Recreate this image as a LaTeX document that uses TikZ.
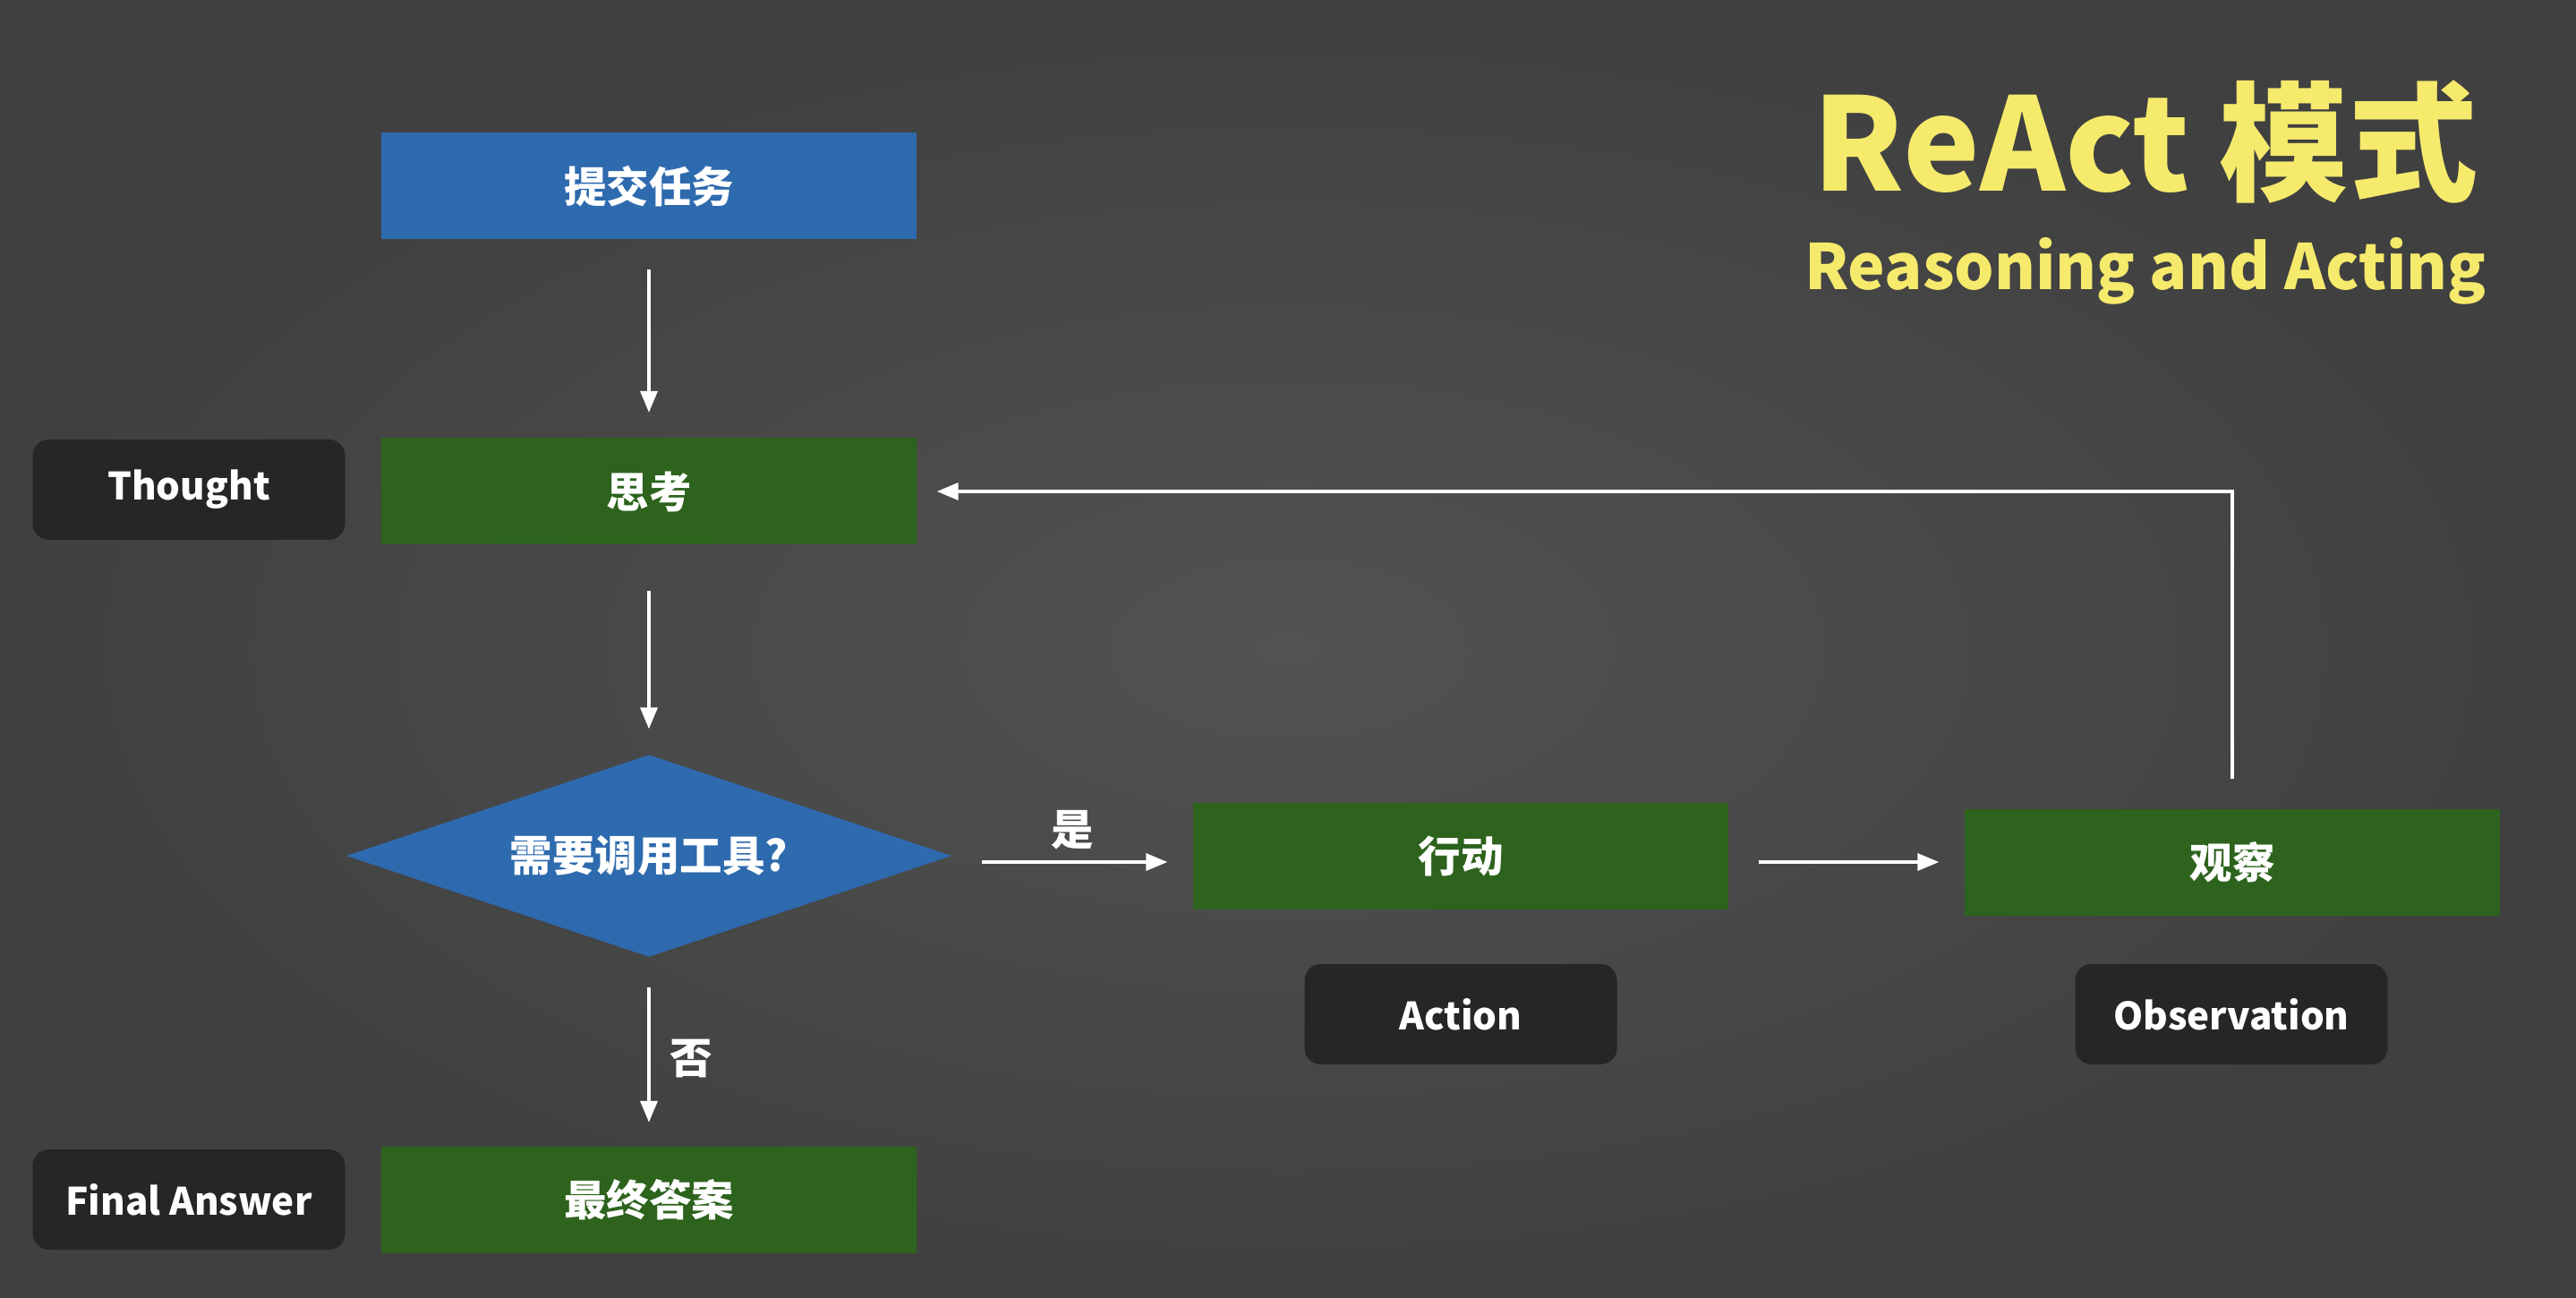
\documentclass[tikz,border=0pt]{standalone}
\usepackage{fontspec}
\usepackage{xcolor}
\setmainfont{Noto Sans CJK SC}
\usetikzlibrary{arrows.meta, shapes.geometric}
\definecolor{taskblue}{RGB}{46,106,174}
\definecolor{stepgreen}{RGB}{45,99,29}
\definecolor{tagdark}{RGB}{38,38,38}
\definecolor{titleyellow}{RGB}{246,234,108}
\definecolor{boardgray}{RGB}{82,82,82}
\definecolor{boardedge}{RGB}{64,64,64}

\begin{document}
\begin{tikzpicture}[
  stepbox/.style={rectangle, fill=stepgreen, text=white, minimum width=5.98cm, minimum height=1.19cm, font=\fontsize{13.5}{16}\selectfont\bfseries},
  startbox/.style={stepbox, fill=taskblue},
  choice/.style={diamond, aspect=3, fill=taskblue, text=white, inner sep=0pt, minimum width=6.77cm, minimum height=2.26cm, font=\fontsize{13.5}{16}\selectfont\bfseries},
  tag/.style={rectangle, rounded corners=0.18cm, fill=tagdark, text=white, minimum width=3.49cm, minimum height=1.12cm, font=\fontsize{12}{15}\selectfont\bfseries},
  flow/.style={-{Triangle[length=0.24cm, width=0.19cm]}, line width=1pt, white, shorten <=0.33cm, shorten >=0.28cm},
  lbl/.style={text=white, font=\fontsize{13.5}{16}\selectfont\bfseries}
]
% board
\shade[inner color=boardgray, outer color=boardedge] (0,0) rectangle (28.78,-14.50);
\useasboundingbox (0,0) rectangle (28.78,-14.50);

% title
\node[text=titleyellow, font=\fontsize{41}{48}\selectfont\bfseries] (title) at (23.97,-1.58) {ReAct 模式};
\node[text=titleyellow, font=\fontsize{19.9}{24}\selectfont\bfseries] (subtitle) at (23.97,-3.03) {Reasoning and Acting};

% main column
\node[startbox] (task) at (7.25,-2.08) {提交任务};
\node[stepbox] (think) at (7.25,-5.49) {思考};
\node[choice] (decide) at (7.25,-9.56) {需要调用工具?};
\node[stepbox] (final) at (7.25,-13.40) {最终答案};

% tool loop
\node[stepbox] (act) at (16.32,-9.56) {行动};
\node[stepbox] (obs) at (24.94,-9.63) {观察};

% tags
\node[tag] (thought) at (2.11,-5.47) {Thought};
\node[tag] (finalans) at (2.11,-13.40) {Final Answer};
\node[tag] (action) at (16.32,-11.33) {Action};
\node[tag] (observation) at (24.93,-11.33) {Observation};

\draw[flow] (task) -- (think);
\draw[flow, shorten <=0.51cm] (think) -- (decide);
\draw[flow] ([yshift=-0.07cm]decide.east) -- node[lbl, above=0.0cm]{是} ([yshift=-0.07cm]decide.east -| act.west);
\draw[flow] ([yshift=-0.07cm]act.east) -- ([yshift=-0.07cm]act.east -| obs.west);
\draw[flow, shorten >=0.22cm] (obs.north) |- (think.east);
\draw[flow, shorten >=0.26cm] (decide) -- node[lbl, right=0.1cm, yshift=-0.08cm]{否} (final);
\end{tikzpicture}
\end{document}
